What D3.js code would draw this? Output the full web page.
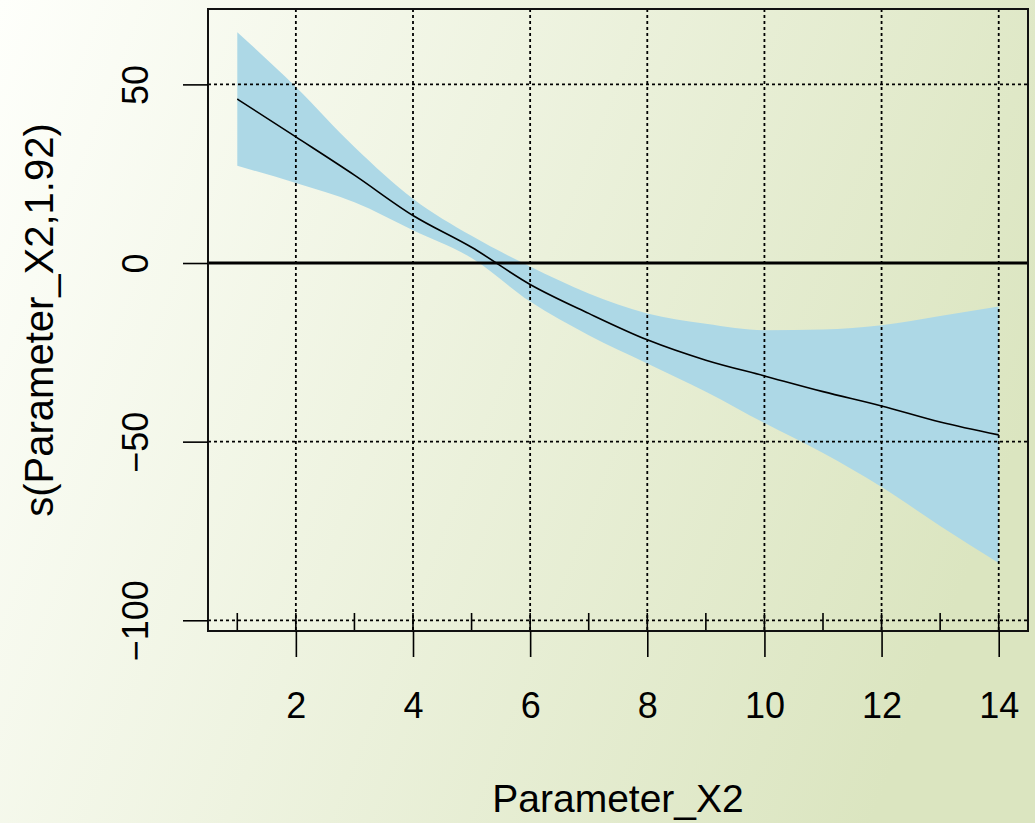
<!DOCTYPE html>
<html>
<head>
<meta charset="utf-8">
<script src="https://cdn.jsdelivr.net/npm/d3@7"></script>
<style>
  html, body { margin: 0; padding: 0; }
  svg { display: block; }
</style>
</head>
<body>
<div id="chart"></div>
<script>
// smooth term values
const xValues = [1, 2, 3, 4, 5, 6, 7, 8, 9, 10, 11, 12, 13, 14];
const fitValues = [45.9, 35.3, 24.6, 13.3, 4.4, -6.0, -14.1, -21.5, -27.2, -31.6, -36.0, -40.0, -44.5, -48.1];
const upperValues = [64.6, 49.3, 32.5, 18.0, 7.6, -1.0, -8.5, -14.1, -17.0, -18.8, -18.6, -17.4, -14.8, -12.2];
const lowerValues = [27.2, 22.4, 17.0, 9.2, 1.4, -10.8, -20.2, -28.1, -36.0, -44.8, -53.2, -62.7, -73.6, -84.0];
const rugValues = [1, 2, 3, 4, 5, 6, 7, 8, 9, 10, 11, 12, 13, 14];
const xTicks = [2, 4, 6, 8, 10, 12, 14];
const yTicks = [-100, -50, 0, 50];

const width = 1035, height = 823;
const plot = { left: 208, right: 1028, top: 9, bottom: 631 };
const font = "'Liberation Sans', Arial, sans-serif";

const x = d3.scaleLinear().domain([0.5, 14.5]).range([plot.left, plot.right]);
const y = d3.scaleLinear().domain([-103.0, 71.1]).range([plot.bottom, plot.top]);

const svg = d3.select("#chart").append("svg")
    .attr("width", width)
    .attr("height", height);

// page background gradient
const grad = svg.append("defs").append("linearGradient")
    .attr("id", "bg")
    .attr("gradientUnits", "userSpaceOnUse")
    .attr("x1", 0).attr("y1", 0)
    .attr("x2", 1035).attr("y2", 400);
grad.append("stop").attr("offset", 0).attr("stop-color", "#fefffb");
grad.append("stop").attr("offset", 1).attr("stop-color", "#dbe5c0");

svg.append("rect")
    .attr("width", width)
    .attr("height", height)
    .attr("fill", "url(#bg)");

const data = xValues.map((v, i) => ({ x: v, fit: fitValues[i], lo: lowerValues[i], hi: upperValues[i] }));

// confidence band
svg.append("path")
    .datum(data)
    .attr("fill", "#add8e6")
    .attr("d", d3.area()
        .x(d => x(d.x))
        .y0(d => y(d.lo))
        .y1(d => y(d.hi))
        .curve(d3.curveMonotoneX));

// dotted grid
const grid = svg.append("g")
    .attr("stroke", "#000")
    .attr("stroke-width", 1.8)
    .attr("stroke-dasharray", "3,3");

grid.selectAll("line.v")
    .data(xTicks)
    .join("line")
    .attr("class", "v")
    .attr("x1", d => x(d)).attr("x2", d => x(d))
    .attr("y1", plot.top).attr("y2", plot.bottom);

grid.selectAll("line.h")
    .data(yTicks.filter(d => d !== 0))
    .join("line")
    .attr("class", "h")
    .attr("x1", plot.left).attr("x2", plot.right)
    .attr("y1", d => y(d)).attr("y2", d => y(d));

// zero reference line
svg.append("line")
    .attr("x1", plot.left).attr("x2", plot.right)
    .attr("y1", y(0)).attr("y2", y(0))
    .attr("stroke", "#000")
    .attr("stroke-width", 3);

// fitted smooth
svg.append("path")
    .datum(data)
    .attr("fill", "none")
    .attr("stroke", "#000")
    .attr("stroke-width", 1.6)
    .attr("d", d3.line()
        .x(d => x(d.x))
        .y(d => y(d.fit))
        .curve(d3.curveMonotoneX));

// rug
svg.append("g")
    .selectAll("line")
    .data(rugValues)
    .join("line")
    .attr("x1", d => x(d)).attr("x2", d => x(d))
    .attr("y1", plot.bottom).attr("y2", plot.bottom - 18)
    .attr("stroke", "#000")
    .attr("stroke-width", 1.6);

// box
svg.append("rect")
    .attr("x", plot.left).attr("y", plot.top)
    .attr("width", plot.right - plot.left)
    .attr("height", plot.bottom - plot.top)
    .attr("fill", "none")
    .attr("stroke", "#111")
    .attr("stroke-width", 2);

// axes
const xAxis = svg.append("g")
    .attr("transform", `translate(0,${plot.bottom})`)
    .call(d3.axisBottom(x).tickValues(xTicks).tickSize(26).tickPadding(35).tickFormat(d3.format("d")));
xAxis.select(".domain").remove();
xAxis.selectAll(".tick line").attr("stroke", "#000").attr("stroke-width", 1.6);
xAxis.selectAll(".tick text")
    .attr("fill", "#000")
    .style("font-family", font)
    .style("font-size", "36px");

const yAxis = svg.append("g")
    .attr("transform", `translate(${plot.left},0)`)
    .call(d3.axisLeft(y).tickValues(yTicks).tickSize(25).tickFormat(d3.format("d")));
yAxis.select(".domain").remove();
yAxis.selectAll(".tick line").attr("stroke", "#000").attr("stroke-width", 1.6);
yAxis.selectAll(".tick text")
    .attr("fill", "#000")
    .attr("x", null).attr("dy", null)
    .attr("text-anchor", "middle")
    .attr("transform", "translate(-60,0) rotate(-90)")
    .style("font-family", font)
    .style("font-size", "36px");

// axis titles
svg.append("text")
    .attr("x", (plot.left + plot.right) / 2)
    .attr("y", 812)
    .attr("text-anchor", "middle")
    .style("font-family", font)
    .style("font-size", "39px")
    .text("Parameter_X2");

svg.append("text")
    .attr("transform", `translate(53,${(plot.top + plot.bottom) / 2}) rotate(-90)`)
    .attr("text-anchor", "middle")
    .style("font-family", font)
    .style("font-size", "40px")
    .text("s(Parameter_X2,1.92)");
</script>
</body>
</html>
